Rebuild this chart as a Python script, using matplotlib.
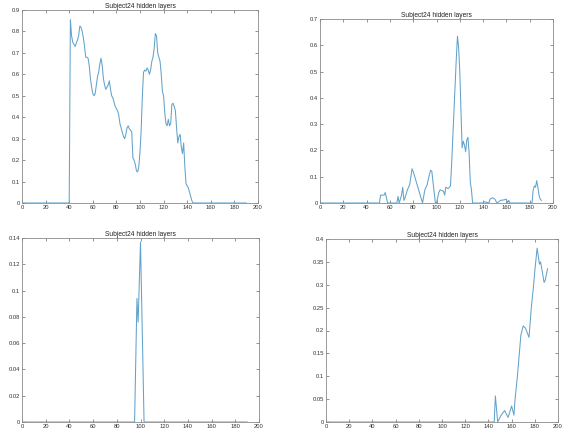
import matplotlib
matplotlib.use("Agg")
import matplotlib.pyplot as plt

plt.rcParams['font.family'] = ['Liberation Sans', 'DejaVu Sans']

title = "Subject24 hidden layers"
xticks = list(range(0, 201, 20))

# top left
x1 = [0, 40, 41, 42, 43, 44, 45, 46, 47, 48, 49, 50, 51, 52, 53, 54, 55, 56, 57, 58,
      59, 60, 61, 62, 63, 64, 65, 66, 67, 68, 69, 70, 71, 72, 73, 74, 75, 76, 77, 78,
      79, 80, 81, 82, 83, 84, 85, 86, 87, 88, 89, 90, 91, 92, 93, 94, 95, 96, 97, 98,
      99, 100, 101, 102, 103, 104, 105, 106, 107, 108, 109, 110, 111, 112, 113, 114,
      115, 116, 117, 118, 119, 120, 121, 122, 123, 124, 125, 126, 127, 128, 129, 130,
      131, 132, 133, 134, 135, 136, 137, 138, 139, 140, 141, 142, 143, 144, 145, 190]
y1 = [0, 0, 0.855, 0.78, 0.75, 0.74, 0.73, 0.745, 0.76, 0.78, 0.825, 0.82, 0.80, 0.77,
      0.73, 0.68, 0.68, 0.675, 0.64, 0.58, 0.54, 0.51, 0.50, 0.51, 0.55, 0.59, 0.61,
      0.65, 0.675, 0.64, 0.58, 0.55, 0.53, 0.54, 0.55, 0.57, 0.53, 0.50, 0.49, 0.47,
      0.45, 0.44, 0.43, 0.41, 0.37, 0.35, 0.33, 0.31, 0.30, 0.32, 0.35, 0.36, 0.345,
      0.34, 0.33, 0.21, 0.20, 0.18, 0.15, 0.145, 0.17, 0.24, 0.34, 0.50, 0.61, 0.62,
      0.615, 0.63, 0.62, 0.60, 0.62, 0.66, 0.68, 0.72, 0.79, 0.78, 0.70, 0.68, 0.66,
      0.60, 0.52, 0.50, 0.42, 0.37, 0.36, 0.39, 0.36, 0.37, 0.46, 0.465, 0.45, 0.43,
      0.35, 0.28, 0.31, 0.32, 0.26, 0.23, 0.28, 0.17, 0.09, 0.08, 0.07, 0.05, 0.03,
      0.01, 0.0, 0.0]

# top right
x2 = [0, 51, 52, 55, 56, 58, 66, 67, 68, 70, 71, 72, 73, 75, 77, 79, 80, 82, 84, 86,
      88, 90, 92, 94, 95, 96, 97, 99, 100, 102, 103, 106, 107, 108, 110, 112, 113, 115,
      117, 118, 119, 120, 121, 122, 123, 124, 125, 126, 127, 128, 129, 130, 131, 140,
      141, 145, 146, 148, 150, 152, 155, 158, 160, 161, 162, 163, 182, 183, 184, 185,
      186, 187, 188, 189, 190]
y2 = [0, 0, 0.03, 0.03, 0.04, 0, 0, 0.025, 0, 0.03, 0.06, 0.01, 0.02, 0.05, 0.07, 0.13,
      0.12, 0.09, 0.06, 0.03, 0.0, 0.05, 0.07, 0.11, 0.125, 0.12, 0.08, 0.0, 0.0, 0.04,
      0.05, 0.045, 0.03, 0.06, 0.055, 0.065, 0.15, 0.35, 0.55, 0.635, 0.59, 0.50, 0.35,
      0.21, 0.235, 0.22, 0.195, 0.24, 0.25, 0.19, 0.08, 0.05, 0.0, 0.0, 0.005, 0.0,
      0.015, 0.02, 0.015, 0.0, 0.01, 0.012, 0.015, 0.0, 0.01, 0.0, 0.0, 0.05, 0.065,
      0.06, 0.085, 0.06, 0.03, 0.015, 0.01]

# bottom left
x3 = [0, 95, 97, 98, 100, 103, 190]
y3 = [0, 0, 0.094, 0.076, 0.137, 0, 0]

# bottom right
x4 = [0, 145, 146, 148, 150, 151, 154, 156, 157, 160, 162, 163, 165, 168, 170, 172,
      175, 177, 179, 180, 182, 184, 185, 187, 188, 189, 191]
y4 = [0, 0, 0.057, 0, 0.01, 0.015, 0.025, 0.015, 0.01, 0.035, 0.015, 0.05, 0.10, 0.19,
      0.21, 0.205, 0.185, 0.25, 0.30, 0.33, 0.38, 0.345, 0.35, 0.32, 0.305, 0.31, 0.335]

panels = [
    (x1, y1, 0.9, [0, 0.1, 0.2, 0.3, 0.4, 0.5, 0.6, 0.7, 0.8, 0.9],
     ['0', '0.1', '0.2', '0.3', '0.4', '0.5', '0.6', '0.7', '0.8', '0.9'],
     [22 / 562, 1 - 203 / 429, 236 / 562, 193 / 429]),
    (x2, y2, 0.7, [0, 0.1, 0.2, 0.3, 0.4, 0.5, 0.6, 0.7],
     ['0', '0.1', '0.2', '0.3', '0.4', '0.5', '0.6', '0.7'],
     [320 / 562, 1 - 203 / 429, 233 / 562, 184 / 429]),
    (x3, y3, 0.14, [0, 0.02, 0.04, 0.06, 0.08, 0.1, 0.12, 0.14],
     ['0', '0.02', '0.04', '0.06', '0.08', '0.1', '0.12', '0.14'],
     [22 / 562, 1 - 422 / 429, 237 / 562, 184 / 429]),
    (x4, y4, 0.4, [0, 0.05, 0.1, 0.15, 0.2, 0.25, 0.3, 0.35, 0.4],
     ['0', '0.05', '0.1', '0.15', '0.2', '0.25', '0.3', '0.35', '0.4'],
     [326 / 562, 1 - 422 / 429, 232 / 562, 183 / 429]),
]

fig = plt.figure(figsize=(5.62, 4.29), dpi=100)

for xs, ys, ymax, yt, ytl, pos in panels:
    ax = fig.add_axes(pos)
    ax.plot(xs, ys, color='#62a2cb', lw=0.75)
    ax.set_xlim(0, 200)
    ax.set_ylim(0, ymax)
    ax.set_xticks(xticks)
    ax.set_yticks(yt)
    ax.set_yticklabels(ytl)
    ax.tick_params(direction='in', top=True, right=True, length=2, width=0.5,
                   labelsize=4.2, colors='#666666', labelcolor='#333333', pad=1.2)
    for s in ax.spines.values():
        s.set_color('#8a8a8a')
        s.set_linewidth(0.6)
    ax.set_title(title, fontsize=4.8, color='#222222', pad=1.5)

fig.savefig('out.png', dpi=100, facecolor='white')
